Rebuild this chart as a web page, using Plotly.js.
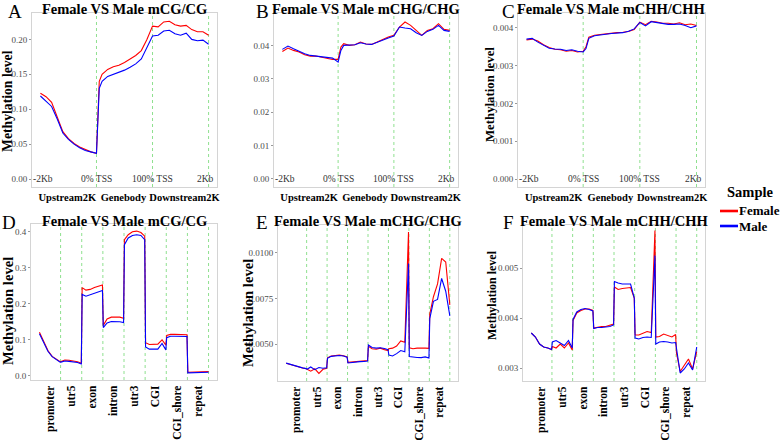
<!DOCTYPE html>
<html>
<head>
<meta charset="utf-8">
<script src="https://cdn.plot.ly/plotly-3.0.1.min.js"></script>
<style>html,body{margin:0;padding:0;background:#fff;}#chart{width:784px;height:440px;}</style>
</head>
<body>
<div id="chart"></div>
<script>
// ---------- data ----------
var seriesNames = ["Female", "Male"];
var legendTitle = "Sample";
var topTitles = ["Female VS Male mCG/CG", "Female VS Male mCHG/CHG", "Female VS Male mCHH/CHH"];
var bottomTitles = ["Female VS Male mCG/CG", "Female VS Male mCHG/CHG", "Female VS Male mCHH/CHH"];
var panelLetters = ["A", "B", "C", "D", "E", "F"];
var yTitle = "Methylation level";
var topCategories = ["Upstream2K", "Genebody", "Downstream2K"];
var topCategoryPos = [0.48, 1.48, 2.57];
var topMarkers = ["-2Kb", "0% TSS", "100% TSS", "2Kb"];
var topMarkerPos = [0.05, 1, 2, 2.95];
var topBoundaries = [1, 2, 3];
var featureCategories = ["promoter", "utr5", "exon", "intron", "utr3", "CGI", "CGI_shore", "repeat"];
var featurePos = [0.5, 1.5, 2.5, 3.5, 4.5, 5.5, 6.5, 7.5];
var featureBoundaries = [1, 2, 3, 4, 5, 6, 7, 8];

var xTop = [0,0.1,0.2,0.3,0.4,0.5,0.6,0.7,0.8,0.9,1.0,1.05,1.1,1.2,1.3,1.4,1.5,1.6,1.7,1.8,1.9,2.0,2.1,2.2,2.3,2.4,2.5,2.6,2.7,2.8,2.9,3.0];

var cgFemaleGene = [0.123,0.118,0.110,0.090,0.068,0.058,0.051,0.046,0.042,0.039,0.037,0.140,0.150,0.157,0.161,0.163,0.167,0.172,0.177,0.184,0.200,0.219,0.218,0.225,0.226,0.221,0.219,0.220,0.214,0.211,0.211,0.206];
var cgMaleGene   = [0.119,0.112,0.104,0.086,0.066,0.057,0.050,0.045,0.041,0.039,0.037,0.130,0.140,0.147,0.150,0.152,0.156,0.160,0.165,0.172,0.188,0.205,0.206,0.212,0.213,0.208,0.206,0.209,0.200,0.198,0.199,0.193];

var chgFemaleGene = [0.0382,0.0392,0.0385,0.0380,0.0372,0.0368,0.0368,0.0365,0.0363,0.0358,0.0358,0.0395,0.0405,0.0400,0.0402,0.0410,0.0404,0.0403,0.0410,0.0418,0.0425,0.0430,0.0455,0.0470,0.0460,0.0445,0.0430,0.0445,0.0450,0.0465,0.0448,0.0445];
var chgMaleGene   = [0.0388,0.0398,0.0390,0.0382,0.0375,0.0370,0.0368,0.0366,0.0362,0.0362,0.0350,0.0385,0.0400,0.0400,0.0402,0.0408,0.0404,0.0403,0.0410,0.0415,0.0422,0.0428,0.0455,0.0452,0.0450,0.0438,0.0430,0.0442,0.0448,0.0460,0.0445,0.0442];

var chhFemaleGene = [0.00368,0.00370,0.00365,0.00355,0.00348,0.00343,0.00342,0.00338,0.00340,0.00336,0.00338,0.00350,0.00375,0.00380,0.00382,0.00384,0.00386,0.00387,0.00388,0.00390,0.00395,0.00415,0.00408,0.00417,0.00415,0.00412,0.00412,0.00410,0.00413,0.00408,0.00410,0.00406];
var chhMaleGene   = [0.00370,0.00372,0.00362,0.00353,0.00346,0.00344,0.00343,0.00340,0.00342,0.00338,0.00336,0.00345,0.00372,0.00379,0.00382,0.00383,0.00385,0.00386,0.00387,0.00391,0.00397,0.00414,0.00405,0.00416,0.00414,0.00411,0.00409,0.00409,0.00410,0.00406,0.00400,0.00405];

var xFeature = [0,0.2,0.4,0.6,0.8,0.98, 1.02,1.2,1.4,1.6,1.8,1.98, 2.02,2.2,2.4,2.6,2.8,2.98, 3.02,3.2,3.4,3.6,3.8,3.98, 4.02,4.2,4.4,4.6,4.8,4.98, 5.02,5.2,5.4,5.6,5.8,5.98, 6.02,6.2,6.4,6.6,6.8,6.98, 7.02,7.2,7.4,7.6,7.8,8.0];

var cgFemaleFeat = [0.121,0.097,0.070,0.054,0.045,0.039, 0.040,0.044,0.043,0.041,0.039,0.035, 0.245,0.238,0.240,0.245,0.249,0.252, 0.140,0.158,0.163,0.164,0.163,0.160, 0.378,0.392,0.400,0.402,0.398,0.388, 0.092,0.087,0.087,0.088,0.100,0.085, 0.112,0.115,0.115,0.115,0.115,0.114, 0.010,0.010,0.011,0.011,0.011,0.012];
var cgMaleFeat   = [0.117,0.094,0.068,0.053,0.044,0.038, 0.038,0.041,0.040,0.039,0.037,0.033, 0.226,0.221,0.225,0.229,0.233,0.237, 0.134,0.147,0.151,0.151,0.150,0.148, 0.364,0.383,0.390,0.392,0.390,0.378, 0.080,0.074,0.073,0.074,0.090,0.072, 0.106,0.110,0.110,0.110,0.109,0.109, 0.008,0.008,0.008,0.009,0.009,0.010];

var chgFemaleFeat = [0.00395,0.00388,0.00380,0.00374,0.00369,0.00365, 0.00362,0.00352,0.00365,0.00340,0.00362,0.00368, 0.00425,0.00435,0.00438,0.00440,0.00436,0.00430, 0.00400,0.00402,0.00405,0.00406,0.00406,0.00410, 0.00488,0.00475,0.00472,0.00478,0.00470,0.00465, 0.00475,0.00478,0.00490,0.00518,0.00510,0.01115, 0.00480,0.00475,0.00478,0.00476,0.00478,0.00477, 0.00665,0.00760,0.00830,0.00970,0.00950,0.00715];
var chgMaleFeat   = [0.00396,0.00389,0.00381,0.00374,0.00370,0.00366, 0.00362,0.00375,0.00360,0.00372,0.00368,0.00370, 0.00422,0.00433,0.00436,0.00438,0.00435,0.00428, 0.00397,0.00400,0.00402,0.00404,0.00405,0.00407, 0.00495,0.00482,0.00478,0.00480,0.00476,0.00470, 0.00440,0.00435,0.00448,0.00465,0.00458,0.00942, 0.00432,0.00428,0.00427,0.00426,0.00430,0.00424, 0.00640,0.00735,0.00745,0.00860,0.00790,0.00655];

var chhFemaleFeat = [0.00370,0.00362,0.00348,0.00342,0.00340,0.00337, 0.00343,0.00340,0.00348,0.00340,0.00350,0.00336, 0.00395,0.00410,0.00415,0.00418,0.00418,0.00415, 0.00380,0.00382,0.00383,0.00383,0.00385,0.00388, 0.00462,0.00457,0.00459,0.00460,0.00461,0.00440, 0.00366,0.00366,0.00370,0.00373,0.00371,0.00575, 0.00362,0.00363,0.00368,0.00365,0.00362,0.00367, 0.00330,0.00293,0.00305,0.00318,0.00298,0.00333];
var chhMaleFeat   = [0.00370,0.00362,0.00348,0.00342,0.00340,0.00337, 0.00352,0.00355,0.00350,0.00345,0.00355,0.00340, 0.00397,0.00412,0.00417,0.00419,0.00417,0.00414, 0.00379,0.00381,0.00381,0.00382,0.00383,0.00386, 0.00473,0.00470,0.00468,0.00468,0.00468,0.00440, 0.00360,0.00358,0.00361,0.00362,0.00361,0.00525, 0.00348,0.00352,0.00353,0.00352,0.00350,0.00351, 0.00338,0.00290,0.00298,0.00310,0.00296,0.00342];

var yTicksA = [0, 0.05, 0.10, 0.15, 0.20];
var yTicksB = [0, 0.01, 0.02, 0.03, 0.04];
var yTicksC = [0, 0.001, 0.002, 0.003, 0.004];
var yTicksD = [0, 0.1, 0.2, 0.3, 0.4];
var yTicksE = [0.005, 0.0075, 0.01];
var yTicksF = [0.003, 0.004, 0.005];

// ---------- layout helpers ----------
var W = 784, H = 440;
var FONT = "Liberation Serif";
var colors = ["#ff0000", "#0000ff"];
function px(x) { return x / W; }
function py(y) { return 1 - y / H; }

var panels = [
  {x: xTop, f: cgFemaleGene,  m: cgMaleGene,  dom: [32, 217, 13, 187], yr: [-0.0113, 0.2378], yt: yTicksA, fmt: ".2f", top: true,  yt_pos: [8, 101, 13.7]},
  {x: xTop, f: chgFemaleGene, m: chgMaleGene, dom: [274, 458, 13, 187], yr: [-0.0024, 0.0497], yt: yTicksB, fmt: ".2f", top: true,  yt_pos: null},
  {x: xTop, f: chhFemaleGene, m: chhMaleGene, dom: [518, 705, 13, 187], yr: [-0.00021, 0.00439], yt: yTicksC, fmt: ".3f", top: true, yt_pos: [490, 95, 12.8]},
  {x: xFeature, f: cgFemaleFeat,  m: cgMaleFeat,  dom: [31, 217, 224, 380], yr: [-0.0117, 0.4217], yt: yTicksD, fmt: ".1f", top: false, yt_pos: [8, 311, 14.6]},
  {x: xFeature, f: chgFemaleFeat, m: chgMaleFeat, dom: [278, 458, 225, 381], yr: [0.00298, 0.01153], yt: yTicksE, fmt: ".4f", top: false, yt_pos: [248, 313, 14.6]},
  {x: xFeature, f: chhFemaleFeat, m: chhMaleFeat, dom: [523, 705, 225, 381], yr: [0.00274, 0.00586], yt: yTicksF, fmt: ".3f", top: false, yt_pos: [492, 295, 12]}
];
var letterPos = [[15, 12], [262, 12], [508, 12], [9, 222], [262, 222], [508, 222]];
var titles = topTitles.concat(bottomTitles);

var traces = [];
var layout = {
  width: W, height: H,
  margin: {l: 0, r: 0, t: 0, b: 0},
  paper_bgcolor: "#ffffff",
  plot_bgcolor: "#ffffff",
  font: {family: FONT, color: "#000"},
  showlegend: false,
  shapes: [], annotations: []
};

panels.forEach(function (p, i) {
  var n = i + 1;
  var xa = "x" + (n === 1 ? "" : n), ya = "y" + (n === 1 ? "" : n);
  [p.f, p.m].forEach(function (vals, k) {
    traces.push({
      type: "scatter", mode: "lines", x: p.x, y: vals,
      xaxis: xa, yaxis: ya, name: seriesNames[k],
      line: {color: colors[k], width: 1.1}
    });
  });
  var xkey = "xaxis" + (n === 1 ? "" : n), ykey = "yaxis" + (n === 1 ? "" : n);
  layout[xkey] = {
    domain: [px(p.dom[0]), px(p.dom[1])],
    anchor: ya,
    range: p.top ? [-0.15, 3.15] : [-0.4, 8.4],
    tickmode: "array",
    tickvals: p.top ? topCategoryPos : featurePos,
    ticktext: p.top ? topCategories : featureCategories,
    tickangle: p.top ? 0 : -90,
    tickfont: {family: FONT, size: p.top ? 10.5 : 11.5, weight: "bold", color: "#000"},
    ticks: "", ticklen: 0,
    showgrid: false, zeroline: false,
    showline: true, mirror: true, linecolor: "#d4d4d4", linewidth: 1,
    fixedrange: true
  };
  layout[ykey] = {
    domain: [py(p.dom[3]), py(p.dom[2])],
    anchor: xa,
    range: p.yr,
    tickmode: "array", tickvals: p.yt, tickformat: p.fmt,
    tickfont: {family: FONT, size: 9, color: "#4d4d4d"},
    ticks: "outside", ticklen: 2, tickcolor: "#999", tickwidth: 1,
    showgrid: false, zeroline: false,
    showline: true, mirror: true, linecolor: "#d4d4d4", linewidth: 1,
    fixedrange: true
  };
  var bounds = p.top ? topBoundaries : featureBoundaries;
  bounds.forEach(function (b) {
    layout.shapes.push({
      type: "line", xref: xa, yref: ya + " domain", x0: b, x1: b, y0: 0, y1: 1,
      line: {color: "#8fe08f", width: 1, dash: "dot"}, layer: "below"
    });
  });
  if (p.top) {
    topMarkers.forEach(function (t, j) {
      layout.annotations.push({
        xref: xa, yref: ya, x: topMarkerPos[j], y: 0, text: t, showarrow: false,
        font: {family: FONT, size: 9.5, color: "#333"}, xanchor: "center", yanchor: "middle"
      });
    });
  }
  if (p.yt_pos) {
    layout.annotations.push({
      xref: "paper", yref: "paper", x: px(p.yt_pos[0]), y: py(p.yt_pos[1]),
      text: yTitle, textangle: -90, showarrow: false, xanchor: "center", yanchor: "middle",
      font: {family: FONT, size: p.yt_pos[2], weight: "bold", color: "#000"}
    });
  }
  layout.annotations.push({
    xref: "paper", yref: "paper", x: px((p.dom[0] + p.dom[1]) / 2), y: py(p.top ? 0 : 212),
    text: titles[i], showarrow: false, xanchor: "center", yanchor: "top", borderpad: 0,
    font: {family: FONT, size: 14.5, weight: "bold", color: "#000"}
  });
  layout.annotations.push({
    xref: "paper", yref: "paper", x: px(letterPos[i][0]), y: py(letterPos[i][1]),
    text: panelLetters[i], showarrow: false, xanchor: "center", yanchor: "middle", borderpad: 0,
    font: {family: FONT, size: 19, color: "#000"}
  });
});

// ---------- legend (key for the two series) ----------
var legendRows = [211, 226];
layout.annotations.push({
  xref: "paper", yref: "paper", x: px(750), y: py(192), text: legendTitle, showarrow: false,
  xanchor: "center", yanchor: "middle", font: {family: FONT, size: 14.5, weight: "bold", color: "#000"}
});
seriesNames.forEach(function (name, k) {
  layout.shapes.push({
    type: "line", xref: "paper", yref: "paper",
    x0: px(720), x1: px(738), y0: py(legendRows[k]), y1: py(legendRows[k]),
    line: {color: colors[k], width: 2.6}
  });
  layout.annotations.push({
    xref: "paper", yref: "paper", x: px(738), y: py(legendRows[k]), text: name, showarrow: false,
    xanchor: "left", yanchor: "middle", borderpad: 0,
    font: {family: FONT, size: 13, weight: "bold", color: "#000"}
  });
});

Plotly.newPlot("chart", traces, layout, {displayModeBar: false, staticPlot: true});
</script>
</body>
</html>
